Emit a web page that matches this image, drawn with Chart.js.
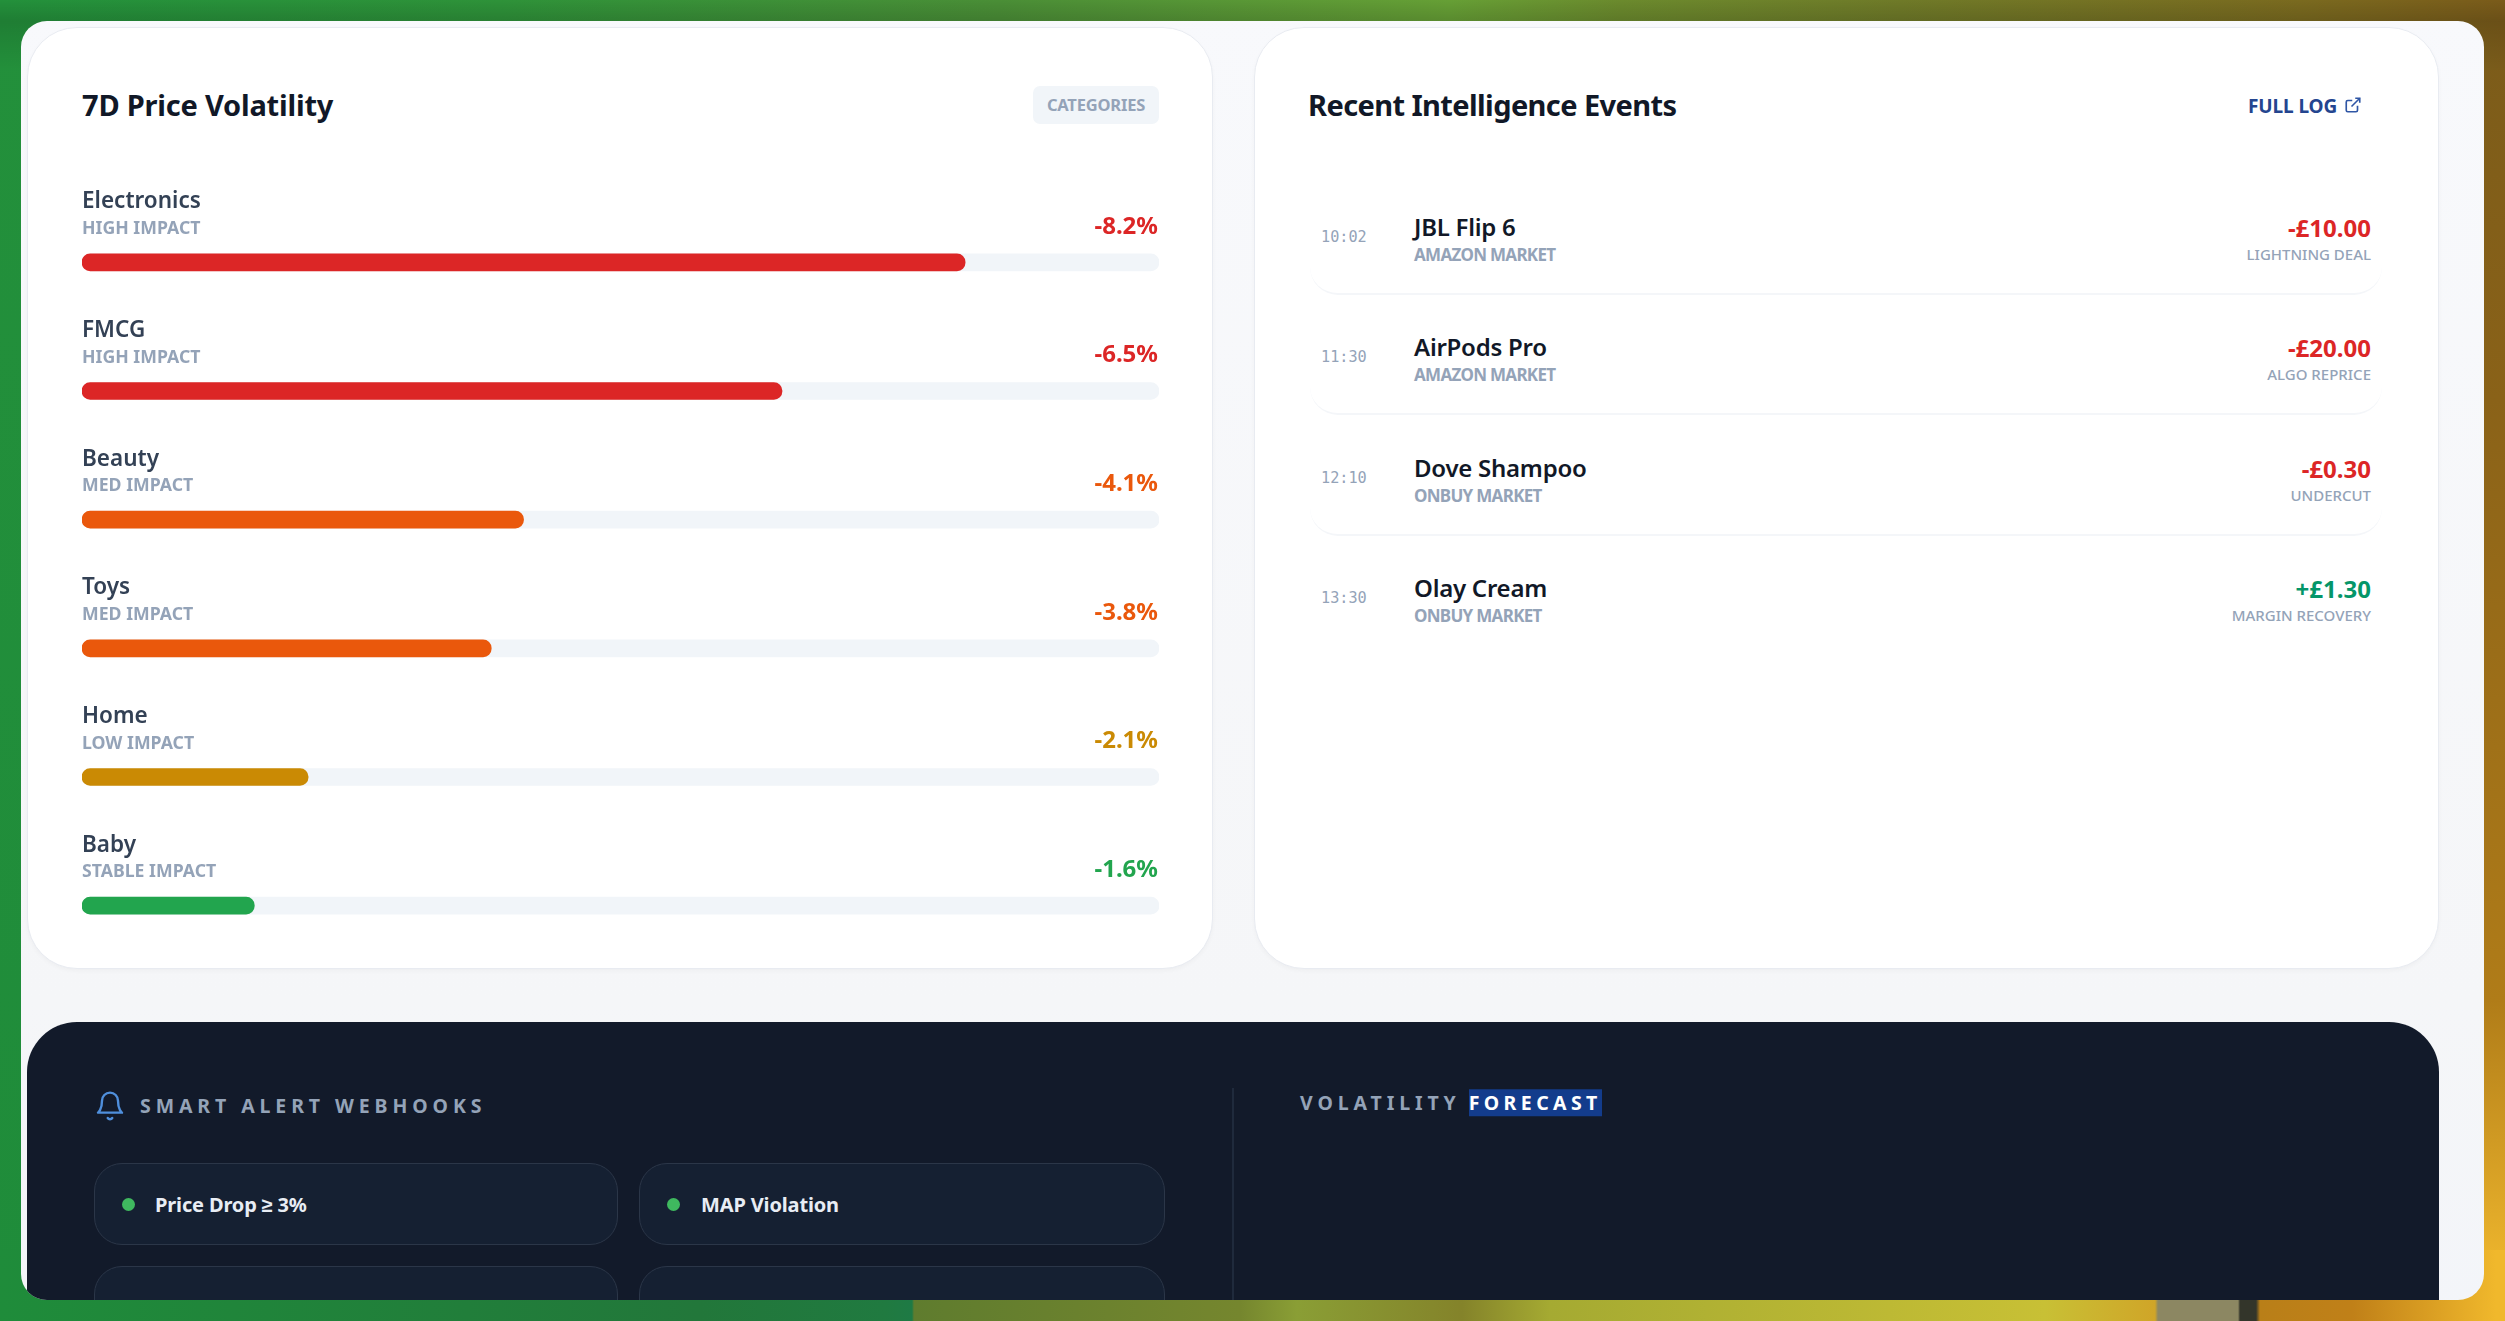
<!DOCTYPE html>
<html>
<head>
<meta charset="utf-8">
<title>7D Price Volatility</title>
<script src="https://cdn.jsdelivr.net/npm/chart.js@4/dist/chart.umd.min.js"></script>
<style>
  html, body { margin:0; padding:0; width:2505px; height:1321px; overflow:hidden; background:#23903b; font-family:"Noto Sans", sans-serif; }
  .abs { position:absolute; white-space:nowrap; }
  .mid { transform:translateY(-50%); line-height:1; }
  .bgTop { position:absolute; left:0; top:0; width:2505px; height:70px;
    background:linear-gradient(180deg,rgba(0,0,0,0) 0,rgba(0,0,0,.13) 21px,rgba(0,0,0,0) 70px),linear-gradient(90deg,#23903b 0,#2e9239 500px,#4a8e36 1000px,#669f35 1450px,#6b8a2d 1620px,#6f7a28 1900px,#7a6a1f 2300px,#7a5b1a 2505px); }
  .bgBottom { position:absolute; left:0; top:1250px; width:2505px; height:71px;
    background:linear-gradient(90deg,#1f8c3a 0,#22773a 700px,#207a40 885px,#1e7a45 912px,#5f7c2e 914px,#75862e 1240px,#8a9e35 1297px,#84832a 1462px,#a5aa32 1550px,#c8c035 2045px,#d0a528 2155px,#8c8762 2158px,#8c8762 2238px,#33352a 2240px,#33352a 2256px,#b97f18 2260px,#c08018 2353px,#f0b82c 2496px); }
  .bgLeft { position:absolute; left:0; top:0; width:60px; height:1321px; background:linear-gradient(180deg,#23903b,#1f8c3a); }
  .bgRight { position:absolute; left:2440px; top:0; width:65px; height:1321px; background:linear-gradient(180deg,#7a5b1a 0,#8a6218 400px,#b07c18 1000px,#f0b82e 1280px); }
  .frame { position:absolute; left:0; top:0; width:2505px; height:1321px; background:linear-gradient(180deg,#f8f9fc,#f5f6f8 1000px,#f3f5f9);
    clip-path:inset(21px 21px 21px 21px round 26px); }
  .card { position:absolute; top:27px; height:940px; background:#fff; border:1.5px solid #e8ebf1; border-radius:50px; box-sizing:content-box; box-shadow:0 2px 4px rgba(15,23,42,.03); }
  .title { font-size:29px; font-weight:700; color:#111827; }
  .pill { left:1033px; top:86px; width:126px; height:38px; line-height:37px; text-align:center; background:#f1f5f9; border-radius:7px; font-size:16.5px; font-weight:700; color:#94a3b8; letter-spacing:-.2px; }
  .divider { position:absolute; left:1310px; width:1072px; height:60px; border-bottom:2px solid #f4f6f9; border-radius:0 0 28px 28px; box-sizing:border-box; }
  .evTime { left:1321px; font-family:"DejaVu Sans Mono", monospace; font-size:15.2px; color:#94a3b8; }
  .evName { left:1414px; font-size:24px; font-weight:600; color:#111827; letter-spacing:-.25px; }
  .evMarket { left:1414px; font-size:17px; font-weight:700; color:#94a3b8; letter-spacing:-.7px; }
  .evAmount { right:134px; font-size:24px; font-weight:700; }
  .evReason { right:134px; font-size:15px; font-weight:500; color:#94a3b8; }
  .dark { position:absolute; left:27px; top:1022px; width:2412px; height:330px; background:#121a2a; border-radius:50px; }
  .hook { position:absolute; height:82px; box-sizing:border-box; background:#152032; border:1.5px solid #2b3648; border-radius:28px; }
  .dot { position:absolute; width:13px; height:13px; border-radius:50%; background:#3fb95f; }
  .hookText { font-size:20px; font-weight:700; color:#e8edf4; letter-spacing:-.15px; }
  .sectionHead { font-size:19.5px; font-weight:700; color:#94a3b8; letter-spacing:4.9px; }
  canvas { position:absolute; left:82px; top:150px; }
</style>
</head>
<body>
<div class="bgLeft"></div><div class="bgRight"></div><div class="bgTop"></div><div class="bgBottom"></div>
<div class="frame" id="frame">
  <div class="card" style="left:27px;width:1184px"></div>
  <div class="card" style="left:1254px;width:1183px"></div>

  <div class="abs mid title" style="left:82px;top:104px;letter-spacing:-.2px">7D Price Volatility</div>
  <div class="abs pill">CATEGORIES</div>
  <canvas id="volChart" width="1077" height="820"></canvas>

  <div class="abs mid title" style="left:1308px;top:104px;letter-spacing:-.6px">Recent Intelligence Events</div>
  <div class="abs mid" style="left:2248px;top:106px;font-size:19px;font-weight:700;color:#24458f;letter-spacing:-.1px">FULL LOG</div>
  <svg class="abs" style="left:2344px;top:96px" width="18" height="18" viewBox="0 0 24 24" fill="none" stroke="#2f56a5" stroke-width="2.2"><path d="M18 13v6a2 2 0 0 1-2 2H5a2 2 0 0 1-2-2V8a2 2 0 0 1 2-2h6"/><path d="M15 3h6v6"/><path d="M10 14L21 3"/></svg>

  <div class="dark"></div>
  <svg class="abs" style="left:94px;top:1090px" width="32" height="32" viewBox="0 0 24 24" fill="none" stroke="#4f8fdc" stroke-width="1.8" stroke-linecap="round" stroke-linejoin="round"><path d="M18 8a6 6 0 0 0-12 0c0 7-3 9-3 9h18s-3-2-3-9"/><path d="M13.7 21a2 2 0 0 1-3.4 0"/></svg>
  <div class="abs mid sectionHead" style="left:140px;top:1106px">SMART ALERT WEBHOOKS</div>
  <div class="abs" style="left:1232px;top:1088px;width:1.5px;height:220px;background:#1f2a3c"></div>
  <div class="abs mid sectionHead" style="left:1300px;top:1103px">VOLATILITY <span style="background:#133c8c;color:#fff;margin-left:-2px;letter-spacing:4.4px">FORECAST</span></div>
</div>

<script>
// 7D volatility, percent change per category
const categories = ['Electronics', 'FMCG', 'Beauty', 'Toys', 'Home', 'Baby'];
const impacts = ['HIGH IMPACT', 'HIGH IMPACT', 'MED IMPACT', 'MED IMPACT', 'LOW IMPACT', 'STABLE IMPACT'];
const volatility = [-8.2, -6.5, -4.1, -3.8, -2.1, -1.6];
const barColors = ['#dc2626', '#dc2626', '#ea580c', '#ea580c', '#ca8a04', '#22a54e'];
const axisMax = 10;

// intelligence log
const eventTimes = ['10:02', '11:30', '12:10', '13:30'];
const eventNames = ['JBL Flip 6', 'AirPods Pro', 'Dove Shampoo', 'Olay Cream'];
const eventMarkets = ['AMAZON MARKET', 'AMAZON MARKET', 'ONBUY MARKET', 'ONBUY MARKET'];
const eventAmounts = ['-£10.00', '-£20.00', '-£0.30', '+£1.30'];
const eventReasons = ['LIGHTNING DEAL', 'ALGO REPRICE', 'UNDERCUT', 'MARGIN RECOVERY'];
const eventColors = ['#dc2626', '#dc2626', '#dc2626', '#059669'];

const webhooks = ['Price Drop ≥ 3%', 'MAP Violation'];

const frame = document.getElementById('frame');

function addText(cls, text, top, color) {
  const d = document.createElement('div');
  d.className = 'abs mid ' + cls;
  d.style.top = top + 'px';
  if (color) d.style.color = color;
  d.textContent = text;
  frame.appendChild(d);
}

eventNames.forEach((name, i) => {
  const y = 120.3 * i;
  addText('evTime', eventTimes[i], 238 + y);
  addText('evName', name, 227 + y);
  addText('evMarket', eventMarkets[i], 254 + y);
  addText('evAmount', eventAmounts[i], 228 + y, eventColors[i]);
  addText('evReason', eventReasons[i], 254 + y);
  if (i < 3) {
    const line = document.createElement('div');
    line.className = 'divider';
    line.style.top = (235 + y) + 'px';
    frame.appendChild(line);
  }
});

// alert tiles, the second row is cut off by the window
[94, 639, 94, 639].forEach((left, i) => {
  const h = document.createElement('div');
  h.className = 'hook';
  h.style.left = left + 'px';
  h.style.width = (i % 2 ? 526 : 524) + 'px';
  h.style.top = (i < 2 ? 1163 : 1266) + 'px';
  frame.appendChild(h);
  if (i < 2) {
    const dot = document.createElement('div');
    dot.className = 'dot';
    dot.style.left = (left + 28) + 'px';
    dot.style.top = '1198px';
    frame.appendChild(dot);
    const t = document.createElement('div');
    t.className = 'abs mid hookText';
    t.style.left = (left + 61 + i) + 'px';
    t.style.top = '1205px';
    t.textContent = webhooks[i];
    frame.appendChild(t);
  }
});

// names, impact and percent sit around each bar, placed off the y scale
const rowLabels = {
  id: 'rowLabels',
  afterDatasetsDraw(chart) {
    const { ctx, chartArea, scales } = chart;
    ctx.save();
    ctx.textBaseline = 'middle';
    categories.forEach((name, i) => {
      const y = scales.y.getPixelForValue(i);
      ctx.textAlign = 'left';
      ctx.fillStyle = '#334155';
      ctx.font = '600 22.5px "Noto Sans"';
      ctx.fillText(name, chartArea.left, y - 60.5);
      ctx.fillStyle = '#94a3b8';
      ctx.font = '700 17.7px "Noto Sans"';
      ctx.fillText(impacts[i], chartArea.left, y - 33.5);
      ctx.textAlign = 'right';
      ctx.fillStyle = barColors[i];
      ctx.font = '700 24px "Noto Sans"';
      ctx.fillText(volatility[i].toFixed(1) + '%', chartArea.right - 1, y - 35.5);
    });
    ctx.restore();
  }
};

new Chart(document.getElementById('volChart'), {
  type: 'bar',
  data: {
    labels: categories,
    datasets: [
      { label: 'Volatility', data: volatility.map(v => Math.abs(v)), backgroundColor: barColors, barThickness: 17, borderRadius: 9, borderSkipped: false, grouped: false },
      { label: 'Track', data: categories.map(() => axisMax), backgroundColor: '#f1f5f9', barThickness: 17, borderRadius: 9, borderSkipped: false, grouped: false }
    ]
  },
  options: {
    indexAxis: 'y',
    responsive: false,
    animation: false,
    devicePixelRatio: 1,
    layout: { padding: { top: 48 } },
    plugins: { legend: { display: false }, tooltip: { enabled: false } },
    scales: {
      x: { display: false, min: 0, max: axisMax },
      y: { display: false }
    }
  },
  plugins: [rowLabels]
});
</script>
</body>
</html>
